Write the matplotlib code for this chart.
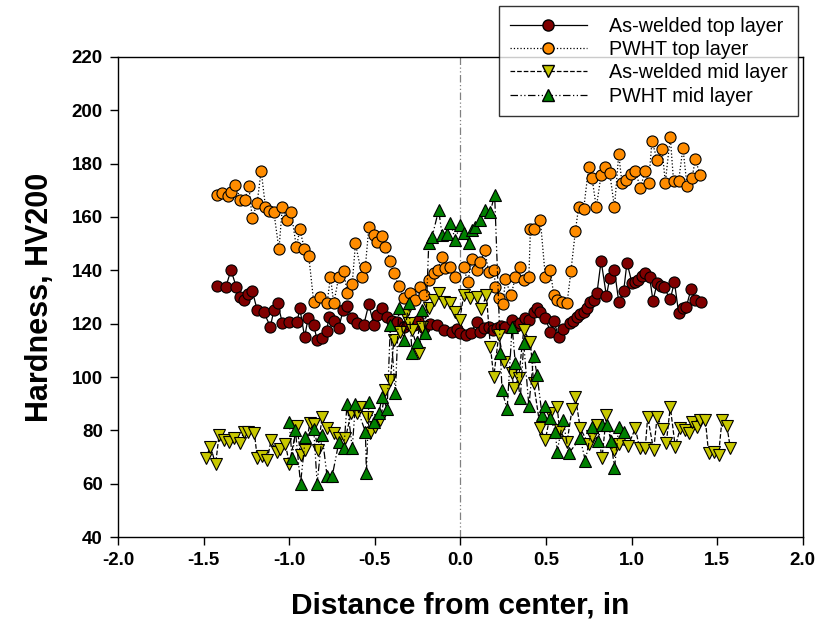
import matplotlib
matplotlib.use('Agg')
import matplotlib.pyplot as plt
from matplotlib.lines import Line2D

plt.rcParams['font.family'] = ['Liberation Sans', 'DejaVu Sans']

# as-welded top layer
aw_top_x = [-1.42, -1.37, -1.34, -1.31, -1.285, -1.267, -1.24, -1.216, -1.187, -1.15,
            -1.11, -1.09, -1.067, -1.04, -1.0, -0.954, -0.938, -0.91, -0.89, -0.857,
            -0.837, -0.808, -0.78, -0.769, -0.74, -0.711, -0.685, -0.662, -0.632, -0.603,
            -0.565, -0.535, -0.506, -0.486, -0.457, -0.43, -0.40, -0.37, -0.33, -0.30,
            -0.273, -0.245, -0.215, -0.18, -0.136, -0.097, -0.049, -0.02, 0.0, 0.03,
            0.06, 0.097, 0.117, 0.14, 0.165, 0.19, 0.214, 0.24, 0.263, 0.302,
            0.325, 0.35, 0.375, 0.4, 0.428, 0.448, 0.467, 0.496, 0.526, 0.545,
            0.574, 0.60, 0.642, 0.66, 0.681, 0.70, 0.72, 0.74, 0.759, 0.78,
            0.798, 0.822, 0.853, 0.872, 0.9, 0.925, 0.954, 0.973, 1.003, 1.02,
            1.04, 1.06, 1.08, 1.105, 1.125, 1.149, 1.17, 1.187, 1.226, 1.25,
            1.275, 1.30, 1.32, 1.347, 1.372, 1.405]
aw_top_y = [134.2, 133.9, 140.1, 133.9, 130.0, 128.9, 131.0, 132.4, 125.1, 124.5,
            118.9, 125.0, 127.6, 120.2, 120.7, 120.7, 125.8, 115.0, 122.0, 119.5,
            113.9, 114.5, 117.2, 122.6, 121.0, 118.5, 125.1, 126.7, 122.0, 120.1,
            119.5, 127.3, 119.5, 123.2, 125.8, 122.6, 121.0, 120.7, 118.9, 120.0,
            119.5, 121.0, 118.4, 120.0, 119.5, 117.6, 117.0, 118.0, 116.4, 115.8,
            116.5, 120.7, 117.0, 118.5, 118.9, 117.5, 118.3, 119.0, 118.9, 121.4,
            119.0, 120.1, 122.0, 121.4, 124.5, 125.8, 124.5, 122.0, 117.0, 121.1,
            115.1, 118.0, 120.4, 121.0, 122.6, 123.5, 124.5, 126.0, 128.2, 129.0,
            131.6, 143.6, 130.4, 137.0, 140.1, 128.2, 132.4, 142.9, 135.1, 135.5,
            136.4, 138.0, 139.1, 137.6, 128.6, 135.1, 134.0, 133.9, 129.1, 135.7,
            124.1, 126.0, 126.4, 132.9, 128.9, 128.0]

# PWHT top layer
pw_top_x = [-1.42, -1.39, -1.36, -1.343, -1.314, -1.285, -1.26, -1.236, -1.216, -1.187,
            -1.164, -1.139, -1.12, -1.09, -1.06, -1.04, -1.012, -0.989, -0.958, -0.938,
            -0.911, -0.886, -0.857, -0.818, -0.779, -0.759, -0.74, -0.711, -0.681, -0.662,
            -0.632, -0.613, -0.574, -0.555, -0.535, -0.506, -0.486, -0.457, -0.438, -0.409,
            -0.389, -0.36, -0.331, -0.292, -0.263, -0.234, -0.214, -0.185, -0.156, -0.133,
            -0.107, -0.088, -0.058, -0.029, 0.019, 0.043, 0.068, 0.097, 0.117, 0.142,
            0.165, 0.195, 0.205, 0.224, 0.249, 0.263, 0.296, 0.321, 0.346, 0.37,
            0.4, 0.409, 0.428, 0.467, 0.496, 0.526, 0.545, 0.565, 0.594, 0.623,
            0.646, 0.672, 0.691, 0.72, 0.749, 0.769, 0.794, 0.822, 0.847, 0.872,
            0.9, 0.925, 0.944, 0.969, 0.997, 1.022, 1.051, 1.08, 1.1, 1.119,
            1.149, 1.178, 1.197, 1.226, 1.245, 1.275, 1.3, 1.324, 1.353, 1.372,
            1.401]
pw_top_y = [168.3, 168.9, 167.9, 169.5, 172.0, 166.4, 166.4, 171.6, 159.5, 165.4,
            177.4, 163.9, 162.4, 162.0, 147.9, 163.9, 158.9, 162.0, 148.6, 155.4,
            147.9, 145.4, 128.2, 130.0, 127.6, 137.6, 127.6, 137.4, 139.9, 131.6,
            134.9, 150.1, 137.6, 141.4, 156.1, 153.3, 150.7, 152.9, 148.9, 143.6,
            138.9, 134.1, 129.5, 131.4, 128.9, 133.6, 130.7, 136.4, 139.1, 140.1,
            145.1, 140.8, 141.1, 137.6, 141.1, 135.7, 144.1, 140.1, 143.2, 147.6,
            139.5, 140.1, 133.9, 129.5, 127.4, 136.6, 130.7, 137.4, 141.1, 136.4,
            137.4, 155.4, 155.4, 158.9, 137.6, 140.1, 130.7, 128.9, 128.2, 127.6,
            139.9, 154.9, 163.9, 162.9, 178.6, 174.5, 163.6, 175.8, 178.9, 176.6,
            163.6, 183.6, 172.6, 173.9, 176.1, 177.4, 170.8, 177.4, 172.9, 188.6,
            181.4, 185.4, 172.9, 189.9, 173.6, 173.6, 185.8, 171.6, 174.5, 181.6,
            175.8]

# as-welded mid layer
aw_mid_x = [-1.489, -1.46, -1.43, -1.41, -1.38, -1.353, -1.324, -1.289, -1.265, -1.242,
            -1.203, -1.187, -1.158, -1.129, -1.105, -1.074, -1.051, -1.022, -1.0, -0.954,
            -0.934, -0.905, -0.88, -0.857, -0.833, -0.808, -0.779, -0.74, -0.711, -0.672,
            -0.638, -0.603, -0.584, -0.545, -0.526, -0.496, -0.467, -0.438, -0.409, -0.389,
            -0.35, -0.321, -0.302, -0.282, -0.243, -0.224, -0.185, -0.156, -0.127, -0.097,
            -0.058, -0.029, -0.004, 0.019, 0.058, 0.097, 0.121, 0.152, 0.175, 0.195,
            0.224, 0.253, 0.302, 0.311, 0.34, 0.37, 0.409, 0.428, 0.467, 0.496,
            0.526, 0.565, 0.58, 0.623, 0.652, 0.672, 0.7, 0.749, 0.77, 0.80,
            0.827, 0.853, 0.896, 0.925, 0.978, 1.022, 1.047, 1.08, 1.094, 1.129,
            1.149, 1.183, 1.203, 1.226, 1.255, 1.285, 1.314, 1.333, 1.353, 1.382,
            1.401, 1.431, 1.45, 1.479, 1.508, 1.528, 1.557, 1.577]
aw_mid_y = [69.5, 73.9, 67.4, 78.2, 76.4, 75.6, 77.0, 75.4, 79.5, 79.5,
            79.1, 69.5, 70.4, 68.9, 76.6, 72.0, 72.9, 74.9, 67.6, 81.6,
            70.8, 72.6, 82.8, 82.4, 72.6, 85.1, 81.1, 78.9, 77.0, 77.0,
            86.6, 86.4, 88.9, 85.1, 78.9, 81.4, 83.9, 95.1, 98.9, 113.9,
            117.0, 123.2, 120.1, 117.6, 108.9, 118.9, 125.8, 128.9, 131.4, 128.2,
            127.6, 124.5, 121.4, 130.7, 129.5, 130.0, 125.4, 130.7, 111.4, 100.1,
            115.8, 105.8, 101.4, 95.8, 99.5, 117.6, 113.2, 97.6, 80.8, 76.4,
            86.4, 88.9, 80.0, 75.6, 87.9, 92.6, 80.8, 74.9, 78.0, 82.0,
            69.5, 85.8, 72.6, 75.1, 74.1, 80.8, 73.3, 73.6, 85.1, 72.6,
            85.1, 80.4, 75.4, 88.9, 73.9, 81.1, 80.1, 78.9, 83.2, 81.4,
            83.9, 83.9, 71.4, 72.0, 70.8, 83.9, 81.6, 73.3]

# PWHT mid layer
pw_mid_x = [-1.0, -0.983, -0.964, -0.934, -0.905, -0.857, -0.837, -0.808, -0.779, -0.749,
            -0.71, -0.681, -0.662, -0.632, -0.613, -0.555, -0.549, -0.535, -0.506, -0.477,
            -0.457, -0.428, -0.409, -0.38, -0.36, -0.331, -0.302, -0.282, -0.253, -0.224,
            -0.204, -0.185, -0.166, -0.127, -0.107, -0.078, -0.058, -0.029, -0.004, 0.023,
            0.049, 0.068, 0.088, 0.117, 0.146, 0.175, 0.2, 0.234, 0.243, 0.273,
            0.302, 0.321, 0.35, 0.37, 0.4, 0.428, 0.448, 0.477, 0.496, 0.526,
            0.555, 0.565, 0.6, 0.632, 0.7, 0.73, 0.769, 0.802, 0.827, 0.857,
            0.88, 0.9, 0.925, 0.954]
pw_mid_y = [83.2, 69.5, 80.1, 60.1, 77.6, 80.7, 60.1, 78.2, 62.9, 62.9,
            75.6, 73.3, 90.1, 73.3, 90.1, 79.5, 63.9, 90.7, 83.2, 86.4,
            92.6, 88.2, 119.5, 93.9, 125.8, 113.9, 127.6, 108.9, 113.2, 125.1,
            116.4, 150.1, 152.4, 162.6, 153.3, 153.6, 157.6, 151.4, 157.0, 154.1,
            150.4, 155.1, 156.4, 158.9, 162.6, 162.0, 168.3, 108.9, 95.1, 87.9,
            118.9, 105.1, 92.0, 112.6, 89.1, 107.9, 100.8, 85.8, 89.3, 84.5,
            79.5, 72.0, 84.1, 71.4, 77.0, 68.6, 81.4, 76.1, 82.0, 82.0,
            76.1, 65.8, 81.4, 79.5]

fig = plt.figure(figsize=(8.22, 6.32), dpi=100)
ax = fig.add_axes([0.1436, 0.150, 0.833, 0.760])

dashdotdot = (0, (6, 2, 1, 2, 1, 2))
ax.axvline(0, color='#808080', lw=0.9, ls=dashdotdot, zorder=1)

ms = 8
ax.plot(aw_top_x, aw_top_y, color='black', lw=0.9, ls='-', marker='o', ms=ms,
        mfc='#800000', mec='black', mew=0.8, label='As-welded top layer', zorder=3)
ax.plot(pw_top_x, pw_top_y, color='black', lw=0.9, ls=':', marker='o', ms=ms,
        mfc='#ff8c00', mec='black', mew=0.8, label='PWHT top layer', zorder=3)
ax.plot(aw_mid_x, aw_mid_y, color='black', lw=0.9, ls='--', marker='v', ms=ms + 1,
        mfc='#c8c800', mec='black', mew=0.8, label='As-welded mid layer', zorder=4)
ax.plot(pw_mid_x, pw_mid_y, color='black', lw=0.9, ls=dashdotdot, marker='^',
        ms=ms + 1, mfc='#008000', mec='black', mew=0.8, label='PWHT mid layer', zorder=4)

ax.set_xlim(-2.0, 2.0)
ax.set_ylim(40, 220)
ax.set_xticks([-2.0, -1.5, -1.0, -0.5, 0.0, 0.5, 1.0, 1.5, 2.0])
ax.set_xticklabels(['-2.0', '-1.5', '-1.0', '-0.5', '0.0', '0.5', '1.0', '1.5', '2.0'])
ax.set_yticks(range(40, 221, 20))
ax.tick_params(direction='out', length=6, width=1, labelsize=13.5, pad=5,
               top=False, right=False)
for lab in ax.get_xticklabels() + ax.get_yticklabels():
    lab.set_fontweight('bold')
for sp in ax.spines.values():
    sp.set_linewidth(1.0)

ax.set_xlabel('Distance from center, in', fontsize=21.5, fontweight='bold', labelpad=16)
ax.set_ylabel('Hardness, HV200', fontsize=22, fontweight='bold', labelpad=12)

handles = [
    Line2D([], [], color='black', lw=0.9, ls='-', marker='o', ms=ms, mfc='#800000', mec='black'),
    Line2D([], [], color='black', lw=0.9, ls=':', marker='o', ms=ms, mfc='#ff8c00', mec='black'),
    Line2D([], [], color='black', lw=0.9, ls='--', marker='v', ms=ms, mfc='#c8c800', mec='black'),
    Line2D([], [], color='black', lw=0.9, ls=dashdotdot, marker='^', ms=ms,
           mfc='#008000', mec='black'),
]
labels = ['As-welded top layer', 'PWHT top layer', 'As-welded mid layer', 'PWHT mid layer']
leg = fig.legend(handles, labels, loc='upper right', bbox_to_anchor=(0.971, 0.991),
                 fontsize=14.2, frameon=True, fancybox=False, edgecolor='black',
                 handlelength=3.9, handletextpad=1.1, labelspacing=0.22,
                 borderpad=0.55, borderaxespad=0)
leg.get_frame().set_linewidth(1.0)
leg.set_zorder(10)

fig.savefig('out.png', dpi=100)
